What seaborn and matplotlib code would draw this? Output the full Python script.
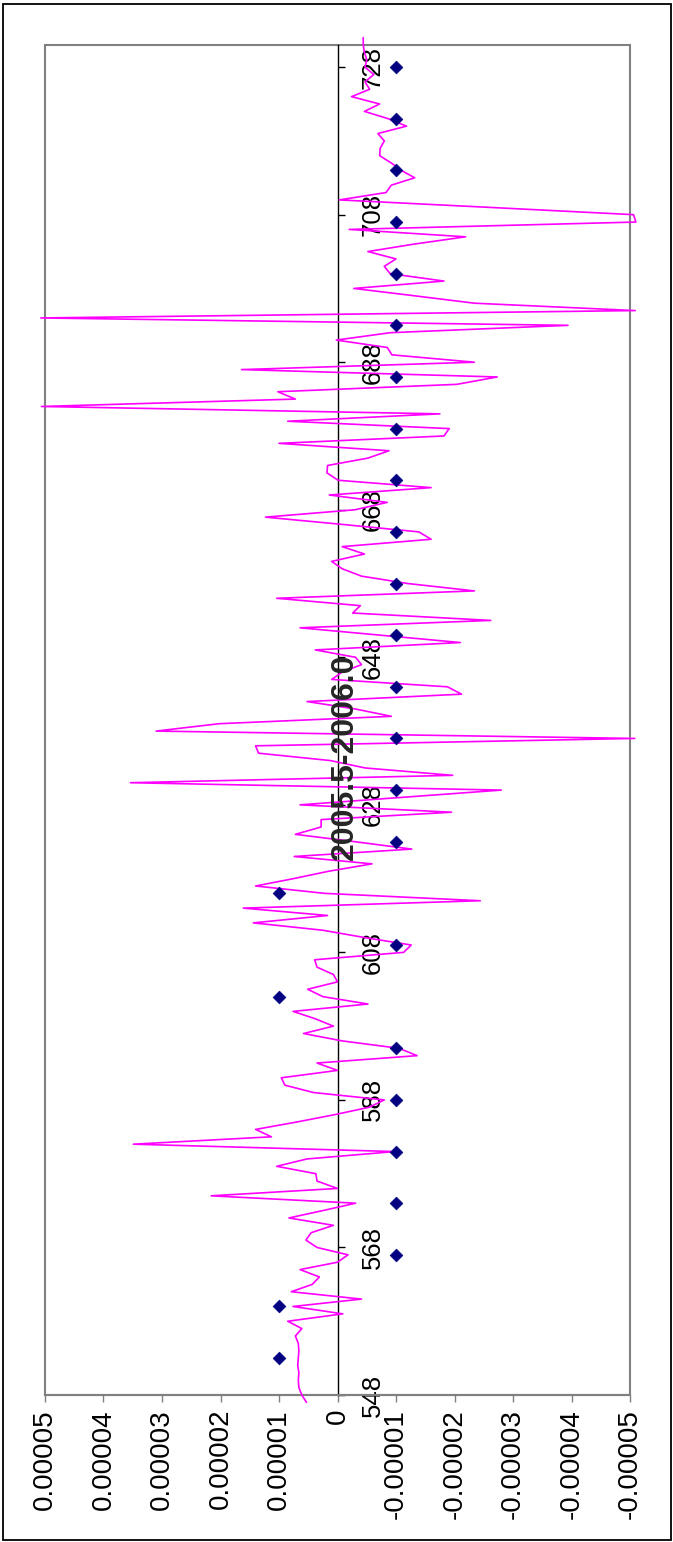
import numpy as np
import pandas as pd
import matplotlib
matplotlib.use("Agg")
import matplotlib.pyplot as plt
from matplotlib.patches import Rectangle
import seaborn as sns

# ---------------- data ----------------
title = "2005.5-2006.0"
categories = list(range(547, 733))
values_e5 = [
    0.53, 0.61, 0.66, 0.67, 0.66, 0.68, 0.67, 0.66, 0.67, 0.72,   # 547-556
    0.61, 0.85, -0.09, 0.76, -0.41, 0.79, 0.43, 0.31, 0.64, 0.00,  # 557-566
    -0.18, 0.35, 0.54, 0.45, 0.07, 0.83, 0.25, -0.31, 2.16, 0.00,  # 567-576
    0.35, 0.37, 1.04, 0.52, -0.98, 3.49, 1.13, 1.40, 0.70, 0.05,   # 577-586
    -0.54, -0.80, 0.41, 0.90, 0.96, 0.00, 0.35, -1.36, -1.05, -0.08,  # 587-596
    0.58, 0.07, 0.38, 0.76, -0.52, 0.25, 0.51, 0.00, 0.07, 0.35,   # 597-606
    0.39, -1.13, -1.26, -0.47, 0.25, 1.44, 0.17, 1.61, -2.44, 0.22,  # 607-616
    1.40, 0.75, 0.15, -0.59, 0.74, -1.27, -0.30, 0.72, 0.28, 0.28,  # 617-626
    -1.95, 0.64, -1.07, -2.80, 3.54, -1.97, -0.47, 0.12, 1.35, 1.40,  # 627-636
    -5.08, 3.10, 2.02, -0.92, -0.30, 0.52, -2.12, -1.88, 0.10, -0.08,  # 637-646
    -0.41, -0.31, 0.38, -2.10, -0.73, 0.64, -2.62, -0.26, -0.39, 1.04,  # 647-656
    -2.34, -1.20, -0.41, -0.08, 0.10, -0.46, -0.08, -1.60, -1.39, -0.10,  # 657-666
    1.23, -0.30, -0.85, 0.14, -1.60, -0.01, 0.18, 0.17, -0.52, -0.88,  # 667-676
    1.00, -1.82, -1.91, 0.85, -1.75, 5.06, 0.72, 1.02, -2.04, -2.73,  # 677-686
    1.64, -2.34, -0.93, -0.85, 0.02, -0.90, -3.94, 5.07, -5.09, -2.34,  # 687-696
    -1.32, -0.28, -1.82, -0.90, -0.80, -1.00, -0.52, -1.30, -2.19, -0.20,  # 697-706
    -5.10, -5.06, -2.57, -0.03, -0.83, -0.92, -1.32, -1.09, -0.92, -0.72,  # 707-716
    -0.73, -0.80, -0.69, -1.18, -0.87, -0.46, -0.72, -0.24, -0.55, -0.47,  # 717-726
    -0.62, -0.47, -0.50, -0.46, -0.44, -0.44,                      # 727-732
]
marker_categories = [553, 560, 567, 574, 581, 588, 595, 602, 609, 616, 623,
                     630, 637, 644, 651, 658, 665, 672, 679, 686, 693, 700,
                     707, 714, 721, 728]
marker_values_e5 = [1, 1, -1, -1, -1, -1, -1, 1, -1, 1, -1,
                    -1, -1, -1, -1, -1, -1, -1, -1, -1, -1, -1,
                    -1, -1, -1, -1]
value_ticks_e5 = [5, 4, 3, 2, 1, 0, -1, -2, -3, -4, -5]
value_tick_labels = ["0.00005", "0.00004", "0.00003", "0.00002", "0.00001", "0",
                     "-0.00001", "-0.00002", "-0.00003", "-0.00004", "-0.00005"]
category_ticks = [548, 568, 588, 608, 628, 648, 668, 688, 708, 728]
category_tick_labels = [str(c) for c in category_ticks]

line_df = pd.DataFrame({"cat": categories, "val": np.array(values_e5) * 1e-5})
mark_df = pd.DataFrame({"cat": marker_categories,
                        "val": np.array(marker_values_e5) * 1e-5})

# ---------------- style ----------------
sns.set_style("white")
plt.rcParams["font.family"] = ["Liberation Sans", "DejaVu Sans"]

fig = plt.figure(figsize=(6.73, 15.42), dpi=100)
ax = fig.add_axes([45 / 673, 1 - 1395 / 1542, (630 - 45) / 673, (1395 - 45) / 1542])

sns.lineplot(data=line_df, x="val", y="cat", sort=False, estimator=None,
             color="#FF00FF", linewidth=1.2, ax=ax, clip_on=False, zorder=3)
sns.scatterplot(data=mark_df, x="val", y="cat", marker="D", s=42,
                color="#000080", edgecolor="#000080", linewidth=0.5,
                ax=ax, zorder=4, clip_on=False)

ax.set_xlim(5e-5, -5e-5)
ax.set_ylim(548, 731)
ax.set_xlabel("")
ax.set_ylabel("")

# value axis (bottom)
ax.set_xticks(np.array(value_ticks_e5) * 1e-5)
ax.set_xticklabels(value_tick_labels, rotation=90)
ax.tick_params(axis="x", direction="out", length=5, width=1, color="#808080",
               labelsize=20, pad=5, bottom=True, labelcolor="black")

# category axis drawn at value 0
ax.yaxis.tick_right()
ax.spines["right"].set_position(("data", 0))
ax.spines["right"].set_color("black")
ax.spines["right"].set_linewidth(1.0)
ax.set_yticks(category_ticks)
ax.set_yticklabels(category_tick_labels, rotation=90)
ax.tick_params(axis="y", direction="out", length=5, width=1, color="black",
               labelsize=18.5, pad=12, right=True, labelcolor="black")
for lab in ax.get_yticklabels():
    lab.set_verticalalignment("center")

for side in ["left", "top"]:
    ax.spines[side].set_visible(False)
ax.spines["bottom"].set_color("#808080")
ax.spines["bottom"].set_linewidth(1.5)
ax.add_patch(Rectangle((0, 0), 1, 1, transform=ax.transAxes, fill=False,
                       edgecolor="#808080", linewidth=1.5, clip_on=False, zorder=1))

fig.text(345 / 673, 1 - 757 / 1542, title, rotation=90, ha="center", va="center",
         fontsize=23, fontweight="bold")

fig.add_artist(Rectangle((2.5 / 673, 2.5 / 1542), 668 / 673, 1536 / 1542,
                         transform=fig.transFigure, fill=False,
                         edgecolor="black", linewidth=1.3))

fig.savefig("out.png", dpi=100)
